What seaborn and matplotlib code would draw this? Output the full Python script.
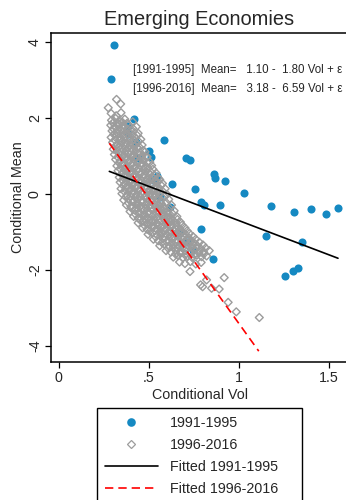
import matplotlib
matplotlib.use("Agg")
import matplotlib.pyplot as plt
import seaborn as sns
import pandas as pd
from matplotlib.lines import Line2D

sns.set_style("ticks")
plt.rcParams['font.family'] = ['Liberation Sans', 'DejaVu Sans']

# ---------------- data ----------------
title = "Emerging Economies"
series_labels = ["1991-1995", "1996-2016", "Fitted 1991-1995", "Fitted 1996-2016"]
x_ticks = [0, 0.5, 1, 1.5]
x_tick_labels = ["0", ".5", "1", "1.5"]
y_ticks = [-4, -2, 0, 2, 4]
y_tick_labels = ["-4", "-2", "0", "2", "4"]

# 1991-1995 observations (Conditional Vol, Conditional Mean)
blue_x = [0.306, 0.289, 0.417, 0.385, 0.428, 0.583, 0.502, 0.509, 0.706, 0.728,
          0.543, 0.630, 0.861, 0.869, 0.920, 0.757, 1.028, 0.790, 0.806, 0.894,
          0.617, 1.176, 1.306, 1.400, 1.483, 1.550, 0.791, 1.150, 1.350, 0.854,
          1.257, 1.298, 1.330,
          0.440, 0.385, 0.561, 0.520, 0.709, 0.672, 0.746]
blue_y = [3.93, 3.03, 1.97, 1.79, 1.36, 1.41, 1.13, 0.97, 0.96, 0.89,
          0.48, 0.27, 0.54, 0.43, 0.34, 0.12, 0.03, -0.22, -0.28, -0.30,
          -0.33, -0.31, -0.46, -0.39, -0.53, -0.36, -0.92, -1.105, -1.27, -1.71,
          -2.15, -2.03, -1.95,
          0.94, 1.57, -0.07, 0.37, -1.25, -1.03, -1.47]

# 1996-2016 observations (outer rows and outliers)
gray_x = [
    0.290, 0.318, 0.345,
    0.292, 0.315, 0.338, 0.366, 0.410,
    0.288, 0.312, 0.336, 0.360, 0.388, 0.430,
    0.295, 0.322, 0.348, 0.372, 0.398, 0.440,
    0.290, 0.318, 0.344, 0.370, 0.396, 0.420, 0.455,
    0.298, 0.325, 0.350, 0.376, 0.402, 0.428, 0.462,
    0.302, 0.330, 0.356, 0.382, 0.408, 0.434, 0.468,
    0.308, 0.335, 0.360, 0.386, 0.412, 0.438, 0.462, 0.490,
    0.315, 0.340, 0.366, 0.392, 0.418, 0.444, 0.470, 0.505,
    0.322, 0.348, 0.374, 0.400, 0.426, 0.452, 0.478, 0.515,
    0.328, 0.354, 0.380, 0.406, 0.432, 0.458, 0.484, 0.510, 0.540,
    0.335, 0.360, 0.386, 0.412, 0.438, 0.464, 0.490, 0.516, 0.550,
    0.340, 0.366, 0.392, 0.418, 0.444, 0.470, 0.496, 0.522, 0.548, 0.575,
    0.345, 0.372, 0.398, 0.424, 0.450, 0.476, 0.502, 0.528, 0.555, 0.590,
    0.350, 0.378, 0.404, 0.430, 0.456, 0.482, 0.508, 0.534, 0.560, 0.600,
    0.360, 0.386, 0.412, 0.438, 0.464, 0.490, 0.516, 0.542, 0.568, 0.610,
    0.375, 0.400, 0.426, 0.452, 0.478, 0.504, 0.530, 0.556, 0.582, 0.625,
    0.395, 0.420, 0.446, 0.472, 0.498, 0.524, 0.550, 0.576, 0.602, 0.640,
    0.415, 0.440, 0.466, 0.492, 0.518, 0.544, 0.570, 0.596, 0.622, 0.655,
    0.440, 0.466, 0.492, 0.518, 0.544, 0.570, 0.596, 0.622, 0.648, 0.675,
    0.465, 0.490, 0.516, 0.542, 0.568, 0.594, 0.620, 0.646, 0.672, 0.700,
    0.495, 0.520, 0.546, 0.572, 0.598, 0.624, 0.650, 0.676, 0.702, 0.725,
    0.525, 0.552, 0.578, 0.604, 0.630, 0.656, 0.682, 0.708, 0.734, 0.760,
    0.560, 0.586, 0.612, 0.638, 0.664, 0.690, 0.716, 0.742, 0.768, 0.800,
    0.595, 0.622, 0.648, 0.674, 0.700, 0.726, 0.752, 0.778, 0.804, 0.835,
    0.635, 0.662, 0.688, 0.714, 0.740, 0.766, 0.792, 0.820,
    0.670, 0.700, 0.730, 0.760, 0.790,
    0.274, 0.320, 0.343, 0.728, 0.787, 0.798, 0.820, 0.918, 0.890, 0.848,
    0.940, 0.985, 1.113,
]
gray_y = [
    2.12, 2.06, 2.14,
    1.94, 1.99, 1.92, 1.97, 1.90,
    1.81, 1.76, 1.84, 1.79, 1.82, 1.77,
    1.66, 1.62, 1.68, 1.63, 1.67, 1.60,
    1.49, 1.53, 1.47, 1.52, 1.46, 1.51, 1.44,
    1.36, 1.31, 1.38, 1.33, 1.37, 1.32, 1.29,
    1.18, 1.22, 1.16, 1.21, 1.17, 1.23, 1.14,
    1.04, 1.08, 1.02, 1.07, 1.03, 1.06, 1.01, 0.98,
    0.91, 0.87, 0.93, 0.88, 0.92, 0.86, 0.90, 0.84,
    0.74, 0.78, 0.72, 0.77, 0.73, 0.76, 0.71, 0.75,
    0.61, 0.57, 0.63, 0.58, 0.62, 0.56, 0.60, 0.58, 0.55,
    0.44, 0.48, 0.42, 0.47, 0.43, 0.46, 0.41, 0.45, 0.43,
    0.31, 0.27, 0.33, 0.28, 0.32, 0.26, 0.30, 0.27, 0.31, 0.28,
    0.14, 0.18, 0.12, 0.17, 0.13, 0.16, 0.11, 0.15, 0.12, 0.14,
    0.01, -0.03, 0.03, -0.02, 0.02, -0.04, 0.00, -0.03, 0.02, -0.01,
    -0.16, -0.12, -0.18, -0.13, -0.17, -0.11, -0.15, -0.12, -0.16, -0.14,
    -0.29, -0.33, -0.27, -0.32, -0.28, -0.31, -0.26, -0.30, -0.33, -0.29,
    -0.46, -0.42, -0.48, -0.43, -0.47, -0.41, -0.45, -0.42, -0.46, -0.44,
    -0.59, -0.63, -0.57, -0.62, -0.58, -0.61, -0.56, -0.60, -0.63, -0.59,
    -0.76, -0.72, -0.78, -0.73, -0.77, -0.71, -0.75, -0.72, -0.76, -0.74,
    -0.89, -0.93, -0.87, -0.92, -0.88, -0.91, -0.86, -0.90, -0.93, -0.89,
    -1.06, -1.02, -1.08, -1.03, -1.07, -1.01, -1.05, -1.02, -1.06, -1.04,
    -1.19, -1.23, -1.17, -1.22, -1.18, -1.21, -1.16, -1.20, -1.23, -1.19,
    -1.36, -1.32, -1.38, -1.33, -1.37, -1.31, -1.35, -1.32, -1.36, -1.34,
    -1.49, -1.53, -1.47, -1.52, -1.48, -1.51, -1.46, -1.50, -1.53, -1.49,
    -1.66, -1.62, -1.68, -1.63, -1.67, -1.61, -1.65, -1.63,
    -1.79, -1.83, -1.78, -1.84, -1.80,
    2.27, 2.49, 2.37, -2.04, -2.39, -2.44, -2.26, -2.20, -2.50, -2.48,
    -2.85, -3.10, -3.25,
]

# 1996-2016 observations (dense core)
core_x = [
    0.300, 0.326, 0.352, 0.378,
    0.302, 0.328, 0.354, 0.380, 0.410,
    0.305, 0.331, 0.357, 0.383, 0.409, 0.435,
    0.311, 0.337, 0.363, 0.389, 0.415, 0.441,
    0.316, 0.342, 0.368, 0.394, 0.420, 0.446,
    0.322, 0.348, 0.374, 0.400, 0.426, 0.452, 0.478,
    0.328, 0.354, 0.380, 0.406, 0.432, 0.458, 0.484,
    0.334, 0.360, 0.386, 0.412, 0.438, 0.464, 0.490,
    0.340, 0.366, 0.392, 0.418, 0.444, 0.470, 0.496, 0.522,
    0.347, 0.373, 0.399, 0.425, 0.451, 0.477, 0.503, 0.530,
    0.352, 0.378, 0.404, 0.430, 0.456, 0.482, 0.508, 0.534, 0.560,
    0.358, 0.384, 0.410, 0.436, 0.462, 0.488, 0.514, 0.540, 0.568,
    0.363, 0.390, 0.416, 0.442, 0.468, 0.494, 0.520, 0.546, 0.575,
    0.372, 0.398, 0.424, 0.450, 0.476, 0.502, 0.528, 0.554, 0.585,
    0.386, 0.412, 0.438, 0.464, 0.490, 0.516, 0.542, 0.568, 0.595,
    0.405, 0.432, 0.458, 0.484, 0.510, 0.536, 0.562, 0.588, 0.615,
    0.425, 0.452, 0.478, 0.504, 0.530, 0.556, 0.582, 0.608, 0.632,
    0.450, 0.476, 0.502, 0.528, 0.554, 0.580, 0.606, 0.632, 0.658,
    0.476, 0.502, 0.528, 0.554, 0.580, 0.606, 0.632, 0.658, 0.684,
    0.505, 0.532, 0.558, 0.584, 0.610, 0.636, 0.662, 0.688, 0.712,
    0.538, 0.564, 0.590, 0.616, 0.642, 0.668, 0.694, 0.720, 0.745,
    0.572, 0.598, 0.624, 0.650, 0.676, 0.702, 0.728, 0.754, 0.780,
    0.608, 0.634, 0.660, 0.686, 0.712, 0.738, 0.764, 0.790, 0.815,
    0.648, 0.674, 0.700, 0.726, 0.752, 0.778, 0.804,
]
core_y = [
    1.87, 1.85, 1.89, 1.86,
    1.72, 1.70, 1.74, 1.71, 1.73,
    1.57, 1.59, 1.55, 1.58, 1.56, 1.54,
    1.42, 1.40, 1.44, 1.41, 1.43, 1.39,
    1.27, 1.29, 1.25, 1.28, 1.26, 1.24,
    1.12, 1.10, 1.14, 1.11, 1.13, 1.09, 1.11,
    0.97, 0.99, 0.95, 0.98, 0.96, 0.94, 0.97,
    0.82, 0.80, 0.84, 0.81, 0.83, 0.79, 0.82,
    0.67, 0.69, 0.65, 0.68, 0.66, 0.64, 0.67, 0.65,
    0.52, 0.50, 0.54, 0.51, 0.53, 0.49, 0.52, 0.50,
    0.37, 0.39, 0.35, 0.38, 0.36, 0.34, 0.37, 0.35, 0.38,
    0.22, 0.20, 0.24, 0.21, 0.23, 0.19, 0.22, 0.20, 0.23,
    0.07, 0.09, 0.05, 0.08, 0.06, 0.04, 0.07, 0.05, 0.08,
    -0.08, -0.06, -0.10, -0.07, -0.09, -0.05, -0.08, -0.10, -0.07,
    -0.23, -0.21, -0.25, -0.22, -0.24, -0.20, -0.23, -0.25, -0.22,
    -0.38, -0.36, -0.40, -0.37, -0.39, -0.35, -0.38, -0.40, -0.37,
    -0.53, -0.51, -0.55, -0.52, -0.54, -0.50, -0.53, -0.55, -0.52,
    -0.68, -0.66, -0.70, -0.67, -0.69, -0.65, -0.68, -0.70, -0.67,
    -0.83, -0.81, -0.85, -0.82, -0.84, -0.80, -0.83, -0.85, -0.82,
    -0.98, -0.96, -1.00, -0.97, -0.99, -0.95, -0.98, -1.00, -0.97,
    -1.13, -1.11, -1.15, -1.12, -1.14, -1.10, -1.13, -1.15, -1.12,
    -1.28, -1.26, -1.30, -1.27, -1.29, -1.25, -1.28, -1.30, -1.27,
    -1.43, -1.41, -1.45, -1.42, -1.44, -1.40, -1.43, -1.45, -1.42,
    -1.58, -1.56, -1.60, -1.57, -1.59, -1.55, -1.58,
]

# fitted lines: intercept, slope, x-range
fit1_coef = [1.10, -1.80]
fit1_range = [0.28, 1.55]
fit2_coef = [3.18, -6.59]
fit2_range = [0.28, 1.11]

annot1 = "[1991-1995]  Mean=   1.10 -  1.80 Vol + \u03b5"
annot2 = "[1996-2016]  Mean=   3.18 -  6.59 Vol + \u03b5"

# ---------------- plot ----------------
BLUE = "#1589c2"
GRAY = "#9c9c9c"

df_blue = pd.DataFrame({"vol": blue_x, "mean": blue_y})
df_gray = pd.DataFrame({"vol": gray_x + core_x, "mean": gray_y + core_y})
df_fit1 = pd.DataFrame({"vol": fit1_range,
                        "mean": [fit1_coef[0] + fit1_coef[1] * v for v in fit1_range]})
df_fit2 = pd.DataFrame({"vol": fit2_range,
                        "mean": [fit2_coef[0] + fit2_coef[1] * v for v in fit2_range]})

fig = plt.figure(figsize=(3.46, 5.0), dpi=100)
ax = fig.add_axes([51 / 346, 1 - 362 / 500, 297 / 346, 329 / 500])

sns.scatterplot(data=df_blue, x="vol", y="mean", ax=ax, color=BLUE, s=34,
                linewidth=0, marker="o", zorder=2)
sns.scatterplot(data=df_gray, x="vol", y="mean", ax=ax, marker="D", s=16,
                facecolor="none", edgecolor=GRAY, linewidth=1.0, zorder=3)
ax.plot(df_fit1["vol"], df_fit1["mean"], color="black", lw=1.2, zorder=4)
ax.plot(df_fit2["vol"], df_fit2["mean"], color="#ff0000", lw=1.2,
        dashes=(5, 3), zorder=4)

ax.set_xlim(-0.044, 1.6056)
ax.set_ylim(-4.42, 4.237)
ax.set_xticks(x_ticks)
ax.set_xticklabels(x_tick_labels)
ax.set_yticks(y_ticks)
ax.set_yticklabels(y_tick_labels, rotation=90, va="center")
ax.tick_params(axis="both", labelsize=10.3, length=4.5, width=0.9, color="black",
               pad=2)
for sp in ax.spines.values():
    sp.set_linewidth(1.1)
    sp.set_color("black")

ax.set_xlabel("Conditional Vol", fontsize=10.3, labelpad=2)
ax.set_ylabel("Conditional Mean", fontsize=10.3, labelpad=2)
ax.set_title(title, fontsize=14.4, pad=6)

ax.text(0.411, 3.26, annot1, fontsize=8.3, va="center", ha="left")
ax.text(0.411, 2.76, annot2, fontsize=8.3, va="center", ha="left")

handles = [
    Line2D([], [], marker="o", color=BLUE, linestyle="none", markersize=6.2,
           markeredgewidth=0),
    Line2D([], [], marker="D", color=GRAY, markerfacecolor="none",
           linestyle="none", markersize=4.2, markeredgewidth=0.9),
    Line2D([], [], color="black", lw=1.2),
    Line2D([], [], color="#ff0000", lw=1.2, dashes=(5, 3)),
]
leg = fig.legend(handles, series_labels, loc="upper left",
                 bbox_to_anchor=(97 / 346, -0.1, 205 / 346, 0.1 + 1 - 408 / 500),
                 mode="expand", borderaxespad=0, fontsize=10.3, frameon=True,
                 fancybox=False, edgecolor="black", framealpha=1,
                 handlelength=3.7, handletextpad=0.84, borderpad=0.55,
                 labelspacing=0.57, numpoints=1)
leg.get_frame().set_linewidth(1.0)

fig.savefig("out.png", dpi=100)
